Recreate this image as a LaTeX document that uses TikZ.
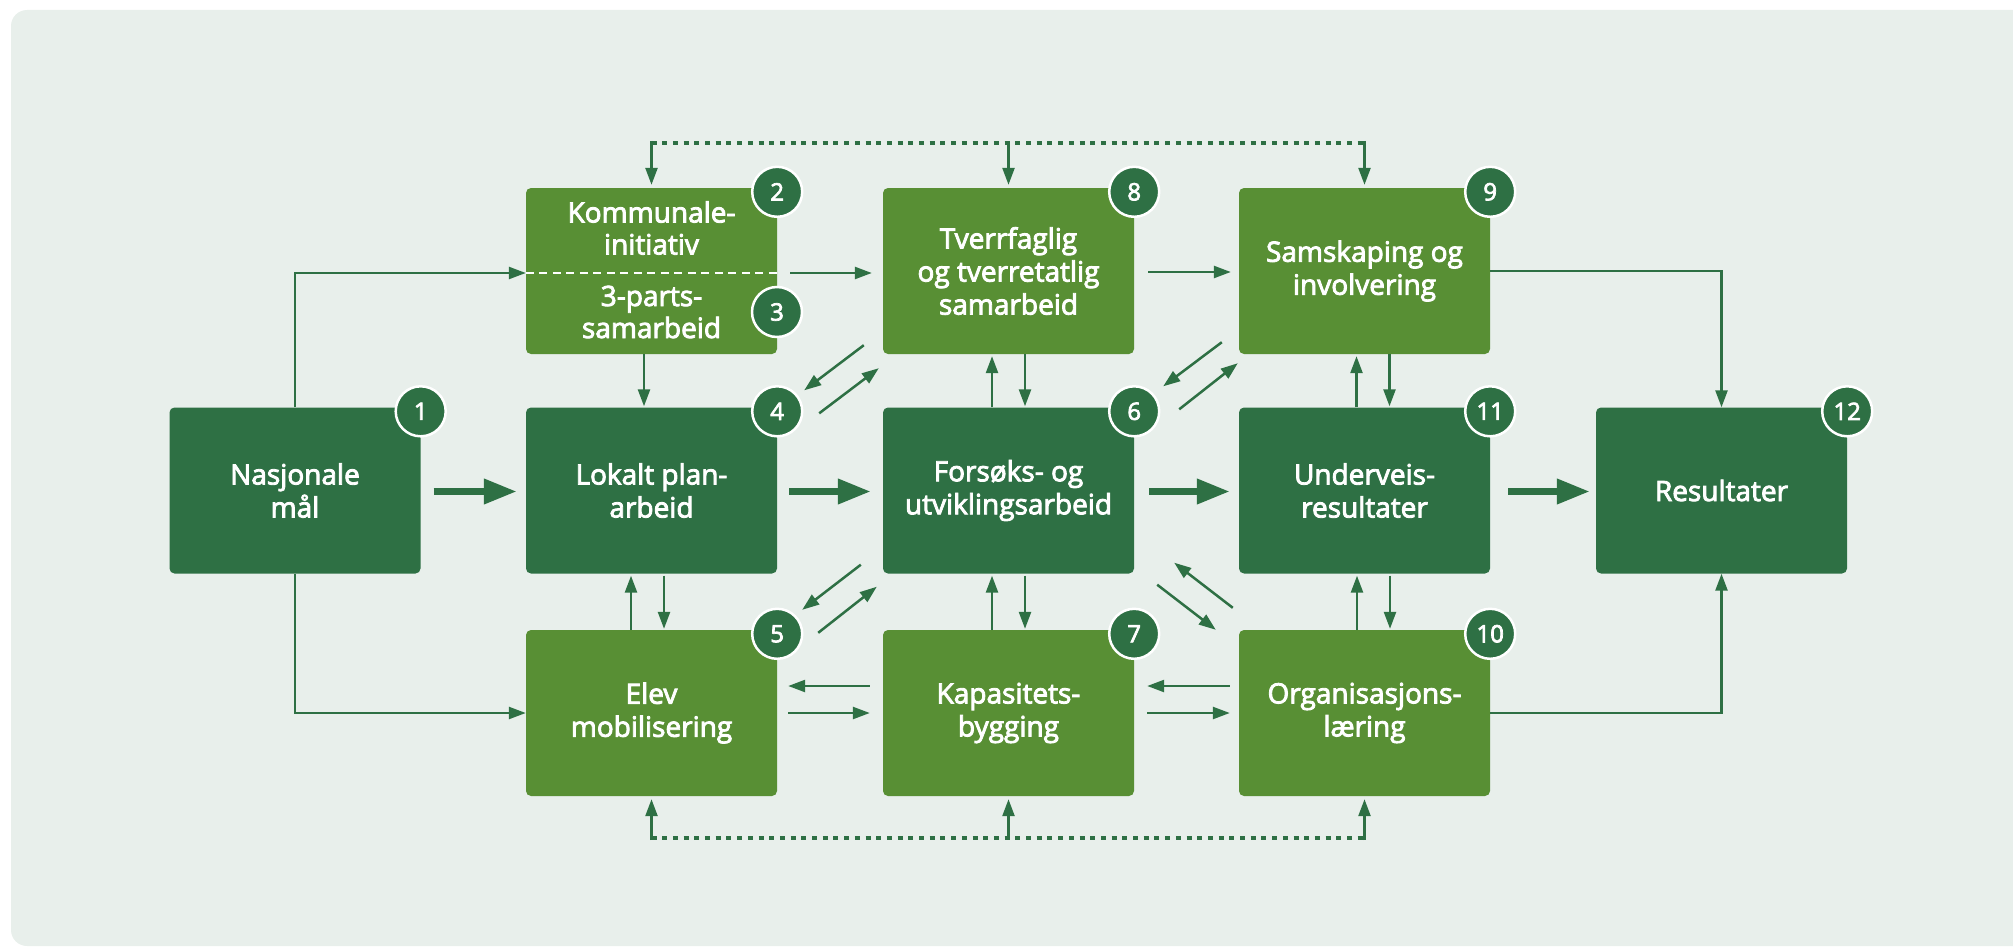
\documentclass[tikz,border=0pt]{standalone}
\usepackage{fontspec}
\setmainfont{Open Sans}
\newfontfamily\boxfont{Open Sans}[RawFeature={embolden=3}]
\usetikzlibrary{arrows.meta,calc}
\definecolor{dgreen}{RGB}{46,112,68}
\definecolor{lgreen}{RGB}{88,143,52}
\definecolor{panel}{RGB}{232,239,235}
\tikzset{
  box/.style={rounded corners=5pt, minimum width=251pt, minimum height=166pt, inner sep=0pt,
    text=white, align=center, font=\boxfont\fontsize{28}{33}\selectfont},
  darkbox/.style={box, fill=dgreen},
  lightbox/.style={box, fill=lgreen},
  badge/.style={circle, fill=dgreen, draw=white, line width=2.5pt, minimum size=50pt, inner sep=0pt,
    text=white, font=\boxfont\fontsize{24}{24}\selectfont},
  thin/.style={draw=dgreen, line width=2.5pt, -{Triangle[length=17pt,width=12pt]}},
  thick/.style={draw=dgreen, line width=7pt, -{Triangle[length=33pt,width=24pt]}},
  dots/.style={draw=dgreen, line width=4.5pt, dash pattern=on 5pt off 5.7pt},
  lbl/.style={text=white, align=center, font=\boxfont\fontsize{28}{32}\selectfont, inner sep=0pt}
}
\begin{document}
\begin{tikzpicture}[x=1pt,y=-1pt]
\useasboundingbox (0,0) rectangle (2013,947);
\begin{scope}
\clip (0,0) rectangle (2013,947);
\fill[panel, rounded corners=16pt] (11,10) rectangle (2040,946);
\end{scope}

% boxes
\node[darkbox] (n1) at (295,490.5) {Nasjonale\\mål};
\node[lightbox] (n23) at (651.5,271) {};
\node[lbl] (t2) at (651.5,228) {Kommunale-\\initiativ};
\node[lbl] (t3) at (651.5,312) {3-parts-\\samarbeid};
\draw[white, line width=1.8pt, dash pattern=on 8pt off 5.5pt] (n23.west |- 0,273) coordinate (dl) -- (n23.east |- 0,273) coordinate (dr);
\node[darkbox] (n4) at (651.5,490.5) {Lokalt plan-\\arbeid};
\node[lightbox] (n5) at (651.5,713) {Elev\\mobilisering};
\node[lightbox] (n8) at (1008.5,271) {Tverrfaglig\\og tverretatlig\\samarbeid};
\node[darkbox] (n6) at (1008.5,490.5) {Forsøks- og\\utviklingsarbeid};
\node[lightbox] (n7) at (1008.5,713) {Kapasitets-\\bygging};
\node[lightbox] (n9) at (1364.5,271) {Samskaping og\\involvering};
\node[darkbox] (n11) at (1364.5,490.5) {Underveis-\\resultater};
\node[lightbox] (n10) at (1364.5,713) {Organisasjons-\\læring};
\node[darkbox] (n12) at (1721.5,490.5) {Resultater};

% badges
\node[badge] (b1) at ($(n1.north east)+(0,4)$) {1};
\node[badge] (b2) at ($(n23.north east)+(0,4)$) {2};
\node[badge] (b3) at (777,312) {3};
\node[badge] (b4) at ($(n4.north east)+(0,4)$) {4};
\node[badge] (b5) at ($(n5.north east)+(0,4)$) {5};
\node[badge] (b6) at ($(n6.north east)+(0,4)$) {6};
\node[badge] (b7) at ($(n7.north east)+(0,4)$) {7};
\node[badge] (b8) at ($(n8.north east)+(0,4)$) {8};
\node[badge] (b9) at ($(n9.north east)+(0,4)$) {9};
\node[badge] (b10) at ($(n10.north east)+(0,4)$) {10};
\node[badge] (b11) at ($(n11.north east)+(0,4)$) {11};
\node[badge] (b12) at ($(n12.north east)+(0,4)$) {12};

% thick arrows
\draw[thick] ($(n1.east)+(13,1)$) -- ($(n4.west)+(-9,1)$);
\draw[thick] ($(n4.east)+(12,1)$) -- ($(n6.west)+(-12,1)$);
\draw[thick] ($(n6.east)+(15,1)$) -- ($(n11.west)+(-9,1)$);
\draw[thick] ($(n11.east)+(18,1)$) -- ($(n12.west)+(-6,1)$);

% elbow connectors
\draw[thin] (n1.north) |- ($(n23.west)+(0,2)$);
\draw[thin] (n1.south) |- (n5.west);
\draw[thin] (n9.east) -| (n12.north);
\draw[thin] (n10.east) -| (n12.south);

% top row horizontals
\draw[thin] ($(n23.east)+(13,2)$) -- ($(n8.west)+(-11,2)$);
\draw[thin] ($(n8.east)+(14,1)$) -- ($(n9.west)+(-8,1)$);

% verticals
\draw[thin] ($(n23.south)+(-7.5,0)$) -- ($(n4.north)+(-7.5,-1)$);
\draw[thin] ($(n5.north)+(-20.5,0)$) -- ($(n4.south)+(-20.5,2)$);
\draw[thin] ($(n4.south)+(12.5,2)$) -- ($(n5.north)+(12.5,-1)$);
\draw[thin] ($(n6.north)+(-16.5,0)$) -- ($(n8.south)+(-16.5,2)$);
\draw[thin] ($(n8.south)+(16.5,0)$) -- ($(n6.north)+(16.5,-1)$);
\draw[thin] ($(n7.north)+(-16.5,0)$) -- ($(n6.south)+(-16.5,2)$);
\draw[thin] ($(n6.south)+(16.5,2)$) -- ($(n7.north)+(16.5,-1)$);
\draw[thin] ($(n11.north)+(-8,0)$) -- ($(n9.south)+(-8,2)$);
\draw[thin] ($(n9.south)+(25,0)$) -- ($(n11.north)+(25,-1)$);
\draw[thin] ($(n10.north)+(-7.5,0)$) -- ($(n11.south)+(-7.5,2)$);
\draw[thin] ($(n11.south)+(25.5,2)$) -- ($(n10.north)+(25.5,-1)$);

% diagonals
\draw[thin] ($(n8.south west)+(-19,-9)$) -- ($(n4.north east)+(27,-17)$);
\draw[thin] ($(n4.north east)+(42,6)$) -- ($(n8.south west)+(-4,14)$);
\draw[thin] ($(n9.south west)+(-17,-12)$) -- ($(n6.north east)+(29,-21)$);
\draw[thin] ($(n6.north east)+(45,2)$) -- ($(n9.south west)+(-1,9)$);
\draw[thin] ($(n6.south west)+(-22,-9)$) -- ($(n5.north east)+(25,-20)$);
\draw[thin] ($(n5.north east)+(41,3)$) -- ($(n6.south west)+(-6,13)$);
\draw[thin] ($(n10.north west)+(-6,-22)$) -- ($(n6.south east)+(40,-11)$);
\draw[thin] ($(n6.south east)+(23,11)$) -- ($(n10.north west)+(-23,0)$);

% bottom row horizontals
\draw[thin] ($(n7.west)+(-13,-27)$) -- ($(n5.east)+(11,-27)$);
\draw[thin] ($(n5.east)+(11,0)$) -- ($(n7.west)+(-13,0)$);
\draw[thin] ($(n10.west)+(-9,-27)$) -- ($(n7.east)+(13,-27)$);
\draw[thin] ($(n7.east)+(13,0)$) -- ($(n10.west)+(-9,0)$);

% dotted feedback lines
\coordinate (tA) at ($(n23.north)+(0,-45)$);
\coordinate (tB) at ($(n8.north)+(0,-45)$);
\coordinate (tC) at ($(n9.north)+(0,-45)$);
\draw[dots] (tA) -- (tC);
\draw[thin] ($(tA)+(0,-2)$) -- ($(n23.north)+(0,-3)$);
\draw[thin] (tB) -- ($(n8.north)+(0,-3)$);
\draw[thin] ($(tC)+(0,-2)$) -- ($(n9.north)+(0,-3)$);
\coordinate (uA) at ($(n5.south)+(0,42)$);
\coordinate (uB) at ($(n7.south)+(0,42)$);
\coordinate (uC) at ($(n10.south)+(0,42)$);
\draw[dots] (uA) -- (uC);
\draw[thin] ($(uA)+(0,2)$) -- ($(n5.south)+(0,3)$);
\draw[thin] (uB) -- ($(n7.south)+(0,3)$);
\draw[thin] ($(uC)+(0,2)$) -- ($(n10.south)+(0,3)$);
\end{tikzpicture}
\end{document}
